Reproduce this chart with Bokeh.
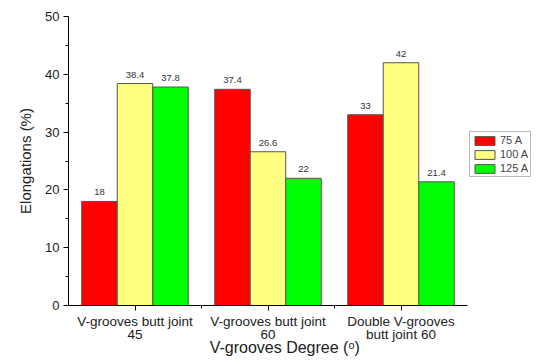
import numpy as np
from bokeh.plotting import figure
from bokeh.models import Range1d, Legend, LegendItem, ColumnDataSource, FixedTicker
from bokeh.core.properties import value
from bokeh.embed import file_html
from bokeh.resources import INLINE

categories = ["V-grooves butt joint\n45", "V-grooves butt joint\n60", "Double V-grooves\nbutt joint 60"]
series_names = ["75 A", "100 A", "125 A"]
v75 = [18, 37.4, 33]
v100 = [38.4, 26.6, 42]
v125 = [37.8, 22, 21.4]
colors = ["#FF0000", "#FFFF80", "#00FF00"]
font = "Liberation Sans"

n = len(categories)
centers = np.arange(n) + 0.5
x_end = n * 468 / 399  # leave room at right of the axis for the legend

p = figure(x_range=Range1d(0, x_end), y_range=Range1d(0, 50),
           width=536, height=360, output_backend="svg", toolbar_location=None,
           min_border_left=68, min_border_top=16, min_border_bottom=55, min_border_right=0)

bw = 0.267
offsets = [-bw, 0, bw]
items = []
for name, vals, col, off in zip(series_names, [v75, v100, v125], colors, offsets):
    src = ColumnDataSource(dict(x=centers + off, v=vals, lab=[("%g" % v) for v in vals]))
    r = p.vbar(x="x", top="v", width=bw, source=src,
               fill_color=col, line_color="#555555", line_width=1)
    p.text(x="x", y="v", text="lab", source=src,
           text_align="center", text_baseline="bottom", y_offset=-6,
           text_font=value(font), text_font_size="9.5px", text_color="#333333")
    items.append(LegendItem(label=name, renderers=[r]))

legend = Legend(items=items, location=(401, 128), margin=0, padding=2, spacing=2,
                glyph_width=25, glyph_height=11, label_text_font=font,
                label_text_font_size="11px", label_height=11, label_width=10, label_standoff=3,
                border_line_color="#777777", label_text_line_height=1.0,
                background_fill_alpha=1.0)
p.add_layout(legend, "center")

p.xgrid.grid_line_color = None
p.ygrid.grid_line_color = None
p.outline_line_color = None

for ax in (p.xaxis, p.yaxis):
    ax.axis_line_color = "black"
    ax.major_tick_line_color = "black"
    ax.minor_tick_line_color = "black"
    ax.major_label_text_font = font
    ax.axis_label_text_font = font
    ax.axis_label_text_font_style = "normal"
    ax.major_label_text_color = "#222222"
    ax.axis_label_text_color = "#222222"

p.yaxis.ticker = FixedTicker(ticks=[0, 10, 20, 30, 40, 50], minor_ticks=[5, 15, 25, 35, 45])
p.yaxis.major_tick_out = 5
p.yaxis.major_tick_in = 0
p.yaxis.minor_tick_out = 3
p.yaxis.minor_tick_in = 0
p.yaxis.major_label_text_font_size = "13px"
p.yaxis.major_label_standoff = 4
p.yaxis.axis_label = "Elongations (%)"
p.yaxis.axis_label_text_font_size = "15px"
p.yaxis.axis_label_standoff = 8

p.xaxis.bounds = (0, n)
p.xaxis.ticker = FixedTicker(ticks=list(centers), minor_ticks=list(np.arange(1, n)))
p.xaxis.major_label_overrides = {float(c): lab for c, lab in zip(centers, categories)}
p.xaxis.major_tick_out = 5
p.xaxis.major_tick_in = 0
p.xaxis.minor_tick_out = 3
p.xaxis.minor_tick_in = 0
p.xaxis.major_label_text_font_size = "13.5px"
p.xaxis.major_label_text_line_height = 0.9
p.xaxis.major_label_standoff = 3
p.xaxis.axis_label = "V-grooves Degree (ᵒ)" + "\u00a0" * 8
p.xaxis.axis_label_text_font_size = "16px"
p.xaxis.axis_label_standoff = -6

open("out.html", "w").write(file_html(p, INLINE))
